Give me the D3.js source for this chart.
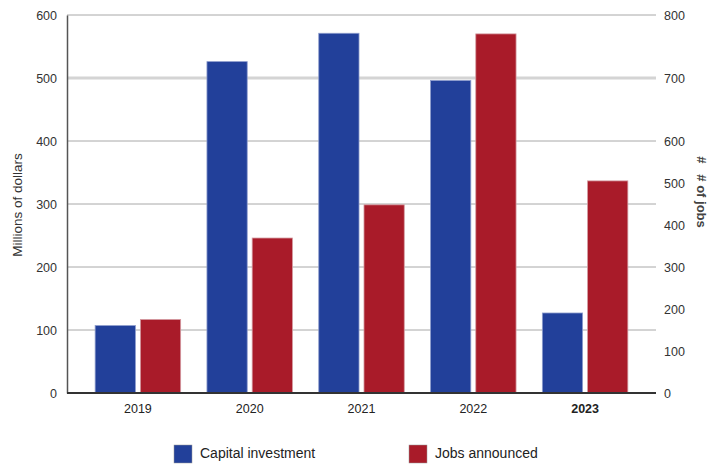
<!DOCTYPE html>
<html>
<head>
<meta charset="utf-8">
<script src="https://cdn.jsdelivr.net/npm/d3@7"></script>
<style>
  body { margin: 0; background: #fff; }
  text { font-family: "Liberation Sans", Arial, sans-serif; fill: #333; }
</style>
</head>
<body>
<div id="chart"></div>
<script>
// data
const years = ['2019', '2020', '2021', '2022', '2023']
const series = ['Capital investment', 'Jobs announced']
const capital = [107, 526, 571, 496, 127]     // millions of dollars (left axis)
const jobs = [175, 369, 448, 770, 505]        // # of jobs (right axis)
const leftTicks = [0, 100, 200, 300, 400, 500, 600]
const rightTicks = [0, 100, 200, 300, 400, 500, 600, 700, 800]
const colors = ['#22409a', '#a91b29']

const width = 708, height = 466
const margin = {top: 15, right: 52, bottom: 73, left: 67}
const plotW = width - margin.left - margin.right
const plotH = height - margin.top - margin.bottom

let svg = d3.select('#chart').append('svg')
  .attr('width', width)
  .attr('height', height)

let pad = svg.append('g')
  .attr('transform', `translate(${margin.left},${margin.top})`)

let yLeft = d3.scaleLinear().domain([0, 600]).range([plotH, 0])
// the right axis in the source is not evenly spaced
let yRight = d3.scaleLinear().domain([0, 600, 800]).range([plotH, plotH - 252, 0])

let x0 = d3.scaleBand().domain(years).range([15, plotW - 15])
let groupW = 85.5
let x1 = d3.scaleBand().domain(series).range([0, groupW]).paddingInner(0.11)

// *** grid ***
pad.append('g')
  .selectAll('line')
  .data(leftTicks.filter(d => d > 0))
  .enter().append('line')
  .attr('x1', 0).attr('x2', plotW)
  .attr('y1', d => yLeft(d)).attr('y2', d => yLeft(d))
  .style('stroke', d => d == 500 ? '#d4d4d4' : '#a8a8a8')
  .style('stroke-width', d => d == 500 ? 3 : 1)

// *** bars ***
let groups = pad.append('g')
  .selectAll('g')
  .data(years)
  .enter().append('g')
  .attr('transform', d => `translate(${x0(d) + (x0.bandwidth() - groupW) / 2},0)`)

groups.append('rect')
  .attr('x', x1(series[0]))
  .attr('width', x1.bandwidth())
  .attr('y', (d, i) => yLeft(capital[i]))
  .attr('height', (d, i) => plotH - yLeft(capital[i]))
  .style('fill', colors[0])
  .style('stroke', '#8d9ccc')
  .style('stroke-width', 0.8)

groups.append('rect')
  .attr('x', x1(series[1]))
  .attr('width', x1.bandwidth())
  .attr('y', (d, i) => yRight(jobs[i]))
  .attr('height', (d, i) => plotH - yRight(jobs[i]))
  .style('fill', colors[1])
  .style('stroke', '#d39aa0')
  .style('stroke-width', 0.8)

// *** axes ***
let left = pad.append('g')
  .call(d3.axisLeft(yLeft).tickValues(leftTicks).tickSize(0).tickPadding(10))
left.select('.domain').attr('stroke', '#555').attr('stroke-width', 1.5)
left.selectAll('text').style('font-size', '12.5px').style('fill', '#333')

let right = pad.append('g')
  .attr('transform', `translate(${plotW},0)`)
  .call(d3.axisRight(yRight).tickValues(rightTicks).tickSize(0).tickPadding(8))
right.select('.domain').remove()
right.selectAll('text').style('font-size', '12.5px').style('fill', '#333')

// baseline
pad.append('line')
  .attr('x1', 0).attr('x2', plotW)
  .attr('y1', plotH).attr('y2', plotH)
  .style('stroke', '#333')
  .style('stroke-width', 2)

let bottom = pad.append('g')
  .attr('transform', `translate(0,${plotH})`)
  .call(d3.axisBottom(x0).tickSize(0).tickPadding(11))
bottom.select('.domain').remove()
bottom.selectAll('text')
  .style('font-size', '12.5px')
  .style('fill', '#222')
  .style('font-weight', d => d == '2023' ? 'bold' : 'normal')

// *** titles ***
svg.append('text')
  .attr('transform', `translate(22,${margin.top + 190}) rotate(-90)`)
  .attr('text-anchor', 'middle')
  .style('font-size', '13.5px')
  .text('Millions of dollars')

svg.append('text')
  .attr('transform', `translate(697,192) rotate(90)`)
  .attr('text-anchor', 'middle')
  .style('font-size', '13px')
  .style('font-weight', 'bold')
  .style('fill', '#444')
  .attr('xml:space', 'preserve')
  .text('#   # of jobs')

// *** legend ***
let legendX = [174, 409]
let legend = svg.append('g')
  .selectAll('g')
  .data(series)
  .enter().append('g')
  .attr('transform', (d, i) => `translate(${legendX[i]},445)`)

legend.append('rect')
  .attr('width', 18).attr('height', 18)
  .style('fill', (d, i) => colors[i])
  .style('stroke', '#999')
  .style('stroke-width', 0.5)

legend.append('text')
  .attr('x', 26).attr('y', 13)
  .style('font-size', '14px')
  .style('fill', '#222')
  .text(d => d)
</script>
</body>
</html>
